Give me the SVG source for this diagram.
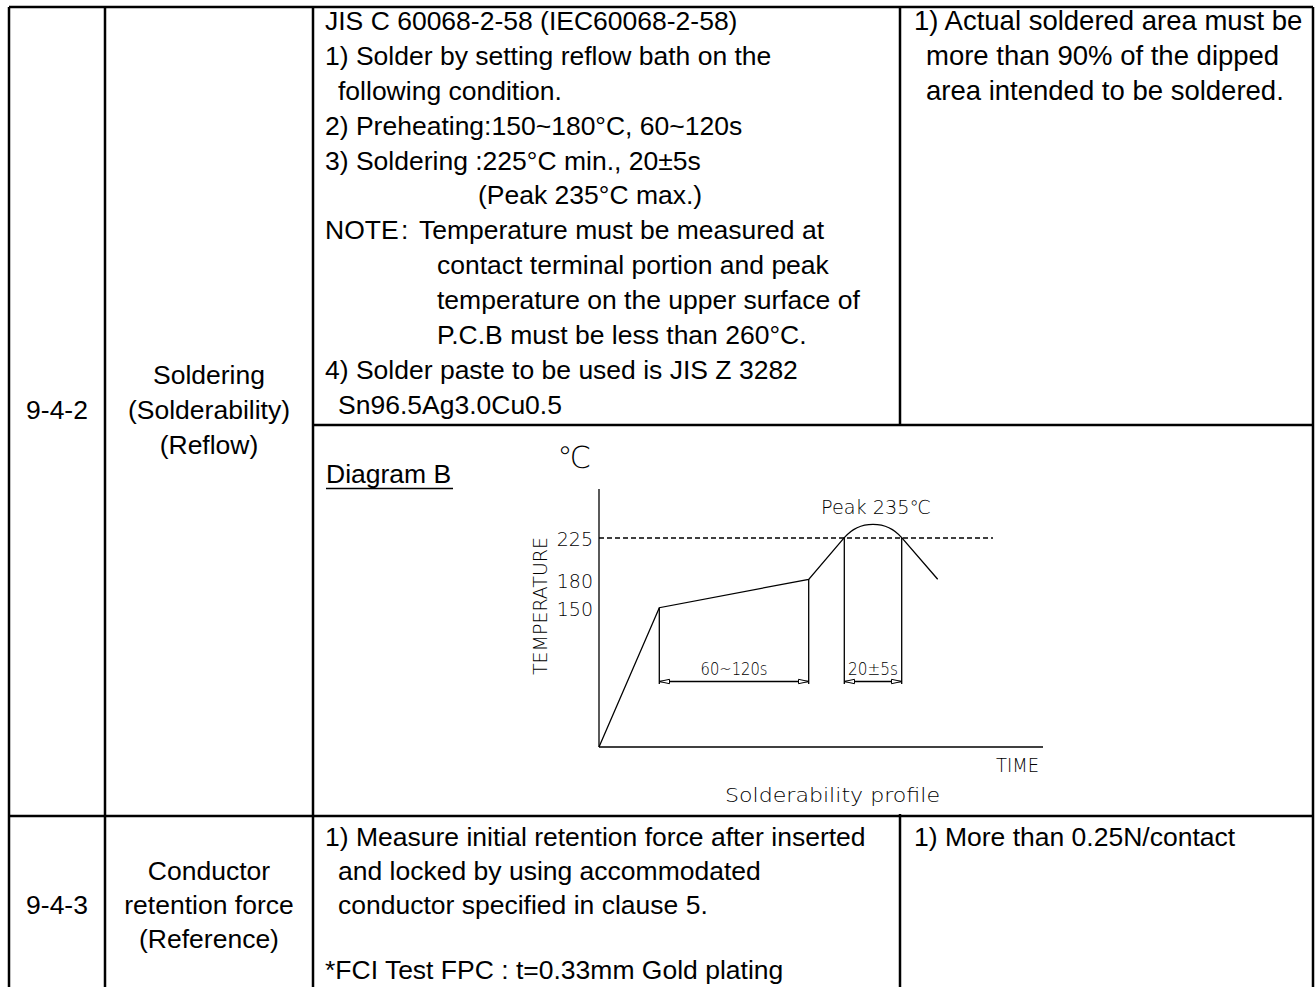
<svg xmlns="http://www.w3.org/2000/svg" width="1316" height="987" viewBox="0 0 1316 987">
<style>
.t{font-family:"Liberation Sans",Arial,sans-serif;font-size:26.5px;fill:#000}
.r{font-size:27.5px}
.m{text-anchor:middle}
.g{fill:none;stroke:#000;stroke-width:2.5}
.c{font-family:"DejaVu Sans",sans-serif;font-weight:200;fill:#000}
.ln{fill:none;stroke:#000;stroke-width:1.3}
.ah{fill:#fff;stroke:#000;stroke-width:1}
</style>
<rect width="1316" height="987" fill="#fff"/>
<g id="grid">
<line class="g" x1="9" y1="7" x2="1313" y2="7"/>
<line class="g" x1="9" y1="7" x2="9" y2="990"/>
<line class="g" x1="105" y1="7" x2="105" y2="990"/>
<line class="g" x1="313" y1="7" x2="313" y2="990"/>
<line class="g" x1="1313" y1="7" x2="1313" y2="990"/>
<line class="g" x1="900" y1="7" x2="900" y2="425"/>
<line class="g" x1="313" y1="425" x2="1313" y2="425"/>
<line class="g" x1="9" y1="816" x2="1313" y2="816"/>
<line class="g" x1="900" y1="814" x2="900" y2="990"/>
</g>
<g id="row-942">
<text class="t m" x="57" y="419">9-4-2</text>
<text class="t m" x="209" y="384">Soldering</text>
<text class="t m" x="209" y="419">(Solderability)</text>
<text class="t m" x="209" y="454">(Reflow)</text>
</g>
<g id="method-942">
<text class="t" x="325" y="30">JIS C 60068-2-58 (IEC60068-2-58)</text>
<text class="t" x="325" y="65">1) Solder by setting reflow bath on the</text>
<text class="t" x="338" y="100">following condition.</text>
<text class="t" x="325" y="135">2) Preheating:150~180°C, 60~120s</text>
<text class="t" x="325" y="170">3) Soldering :225°C min., 20±5s</text>
<text class="t" x="478" y="204">(Peak 235°C max.)</text>
<text class="t" x="325" y="239">NOTE</text>
<text class="t" x="401" y="239">:</text>
<text class="t" x="419" y="239">Temperature must be measured at</text>
<text class="t" x="437" y="274">contact terminal portion and peak</text>
<text class="t" x="437" y="309">temperature on the upper surface of</text>
<text class="t" x="437" y="344">P.C.B must be less than 260°C.</text>
<text class="t" x="325" y="379">4) Solder paste to be used is JIS Z 3282</text>
<text class="t" x="338" y="414">Sn96.5Ag3.0Cu0.5</text>
</g>
<g id="req-942">
<text class="t r" x="914" y="30">1) Actual soldered area must be</text>
<text class="t r" x="926" y="65">more than 90% of the dipped</text>
<text class="t r" x="926" y="100">area intended to be soldered.</text>
</g>
<g id="diagram-b">
<text class="t" x="326" y="483">Diagram B</text>
<line x1="326" y1="488.5" x2="453" y2="488.5" stroke="#000" stroke-width="1.6"/>
<text class="c" x="574" y="468" font-size="30" text-anchor="middle">℃</text>
<line class="ln" x1="599" y1="489" x2="599" y2="747"/>
<line class="ln" x1="599" y1="747" x2="1043" y2="747"/>
<line class="ln" x1="599" y1="538" x2="993" y2="538" stroke-dasharray="5,3"/>
<path class="ln" d="M599,747 L659.3,607.7 L808.7,579.3 L844.3,537.7 A37.4,37.4 0 0 1 901.7,537.7 L937.7,579.3"/>
<line class="ln" x1="659.3" y1="607.7" x2="659.3" y2="684"/>
<line class="ln" x1="808.7" y1="579.3" x2="808.7" y2="684"/>
<line class="ln" x1="844.3" y1="537.7" x2="844.3" y2="684"/>
<line class="ln" x1="901.7" y1="537.7" x2="901.7" y2="684"/>
<line class="ln" x1="659.3" y1="681.5" x2="808.7" y2="681.5"/>
<line class="ln" x1="844.3" y1="681.5" x2="901.7" y2="681.5"/>
<path class="ah" d="M659.3,681.5 L669.5,679.3 L669.5,683.7 Z"/>
<path class="ah" d="M808.7,681.5 L798.5,679.3 L798.5,683.7 Z"/>
<path class="ah" d="M844.3,681.5 L854.5,679.3 L854.5,683.7 Z"/>
<path class="ah" d="M901.7,681.5 L891.5,679.3 L891.5,683.7 Z"/>
<text class="c" x="593" y="545.5" font-size="19" text-anchor="end">225</text>
<text class="c" x="593" y="587.5" font-size="19" text-anchor="end">180</text>
<text class="c" x="593" y="615.5" font-size="19" text-anchor="end">150</text>
<text class="c" font-size="19" text-anchor="middle" transform="translate(547,606) rotate(-90)" textLength="138" lengthAdjust="spacingAndGlyphs">TEMPERATURE</text>
<text class="c" x="821" y="514" font-size="19" textLength="110" lengthAdjust="spacingAndGlyphs">Peak 235℃</text>
<text class="c" x="734" y="675" font-size="17" text-anchor="middle" textLength="67" lengthAdjust="spacingAndGlyphs">60~120s</text>
<text class="c" x="873" y="675" font-size="17" text-anchor="middle" textLength="50" lengthAdjust="spacingAndGlyphs">20±5s</text>
<text class="c" x="996" y="772" font-size="20" textLength="43" lengthAdjust="spacingAndGlyphs">TIME</text>
<text class="c" x="725" y="802" font-size="20" textLength="215" lengthAdjust="spacingAndGlyphs">Solderability profile</text>
</g>
<g id="row-943">
<text class="t m" x="57" y="914">9-4-3</text>
<text class="t m" x="209" y="880">Conductor</text>
<text class="t m" x="209" y="914">retention force</text>
<text class="t m" x="209" y="948">(Reference)</text>
</g>
<g id="method-943">
<text class="t" x="325" y="846">1) Measure initial retention force after inserted</text>
<text class="t" x="338" y="880">and locked by using accommodated</text>
<text class="t" x="338" y="914">conductor specified in clause 5.</text>
<text class="t" x="325" y="979">*FCI Test FPC : t=0.33mm Gold plating</text>
</g>
<g id="req-943">
<text class="t" x="914" y="846">1) More than 0.25N/contact</text>
</g>
</svg>
